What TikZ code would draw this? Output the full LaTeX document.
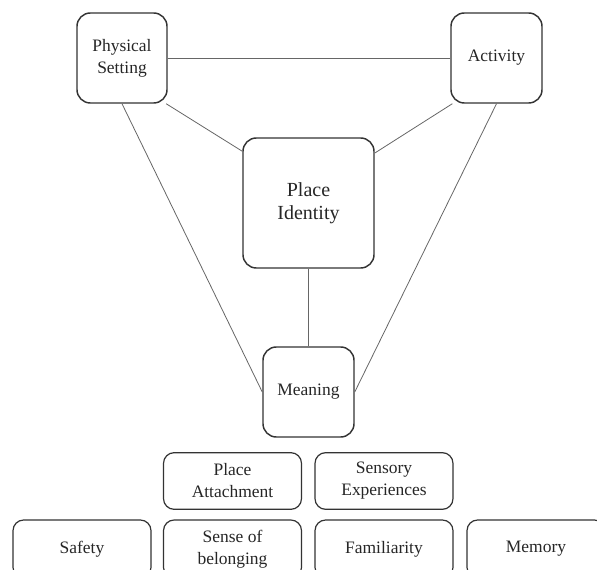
\documentclass[tikz,border=0pt]{standalone}
\usepackage{fontspec}
\setmainfont{Liberation Serif}
\begin{document}
\begin{tikzpicture}[x=0.75pt,y=-0.75pt,
  bigbox/.style={draw=black!80, line width=1.1pt, rounded corners=10pt, align=center, text=black!85,
    font=\fontsize{13.1pt}{16.5pt}\selectfont, inner sep=0pt},
  smallbox/.style={draw=black!80, line width=0.9pt, rounded corners=8pt, align=center, text=black!85,
    font=\fontsize{13.1pt}{16.5pt}\selectfont, inner sep=0pt, minimum width=103.5pt, minimum height=42.5pt},
  link/.style={draw=black!60, line width=0.6pt}]
\clip (0,0) rectangle (597,570);
\useasboundingbox (0,0) rectangle (597,570);
\node[bigbox, minimum width=67.5pt, minimum height=67.5pt] (ps) at (122,58) {Physical\\Setting};
\node[bigbox, minimum width=68.25pt, minimum height=67.5pt] (act) at (496.5,58) {Activity};
\node[bigbox, minimum width=98.25pt, minimum height=97.5pt, font=\fontsize{15pt}{17.3pt}\selectfont] (pi) at (308.5,203) {Place\\Identity};
\node[bigbox, minimum width=68.25pt, minimum height=67.5pt] (mean) at (308.5,392) {Meaning};
\node[smallbox] (pa) at (232.5,481) {Place\\Attachment};
\node[smallbox] (se) at (384,481) {Sensory\\Experiences};
\node[smallbox, minimum height=43.5pt] (saf) at (82,549) {Safety};
\node[smallbox, minimum height=43.5pt] (sob) at (232.5,549) {Sense of\\belonging};
\node[smallbox, minimum height=43.5pt] (fam) at (384,549) {Familiarity};
\node[smallbox, minimum height=43.5pt] (mem) at (536,549) {Memory};
\draw[link] (ps.east) -- (act.west);
\draw[link] (ps.-46) -- (pi.142.6);
\draw[link] (act.226) -- (pi.37.4);
\draw[link] (ps.south) -- (mean.west);
\draw[link] (act.south) -- (mean.east);
\draw[link] (pi.south) -- (mean.north);
\end{tikzpicture}
\end{document}
